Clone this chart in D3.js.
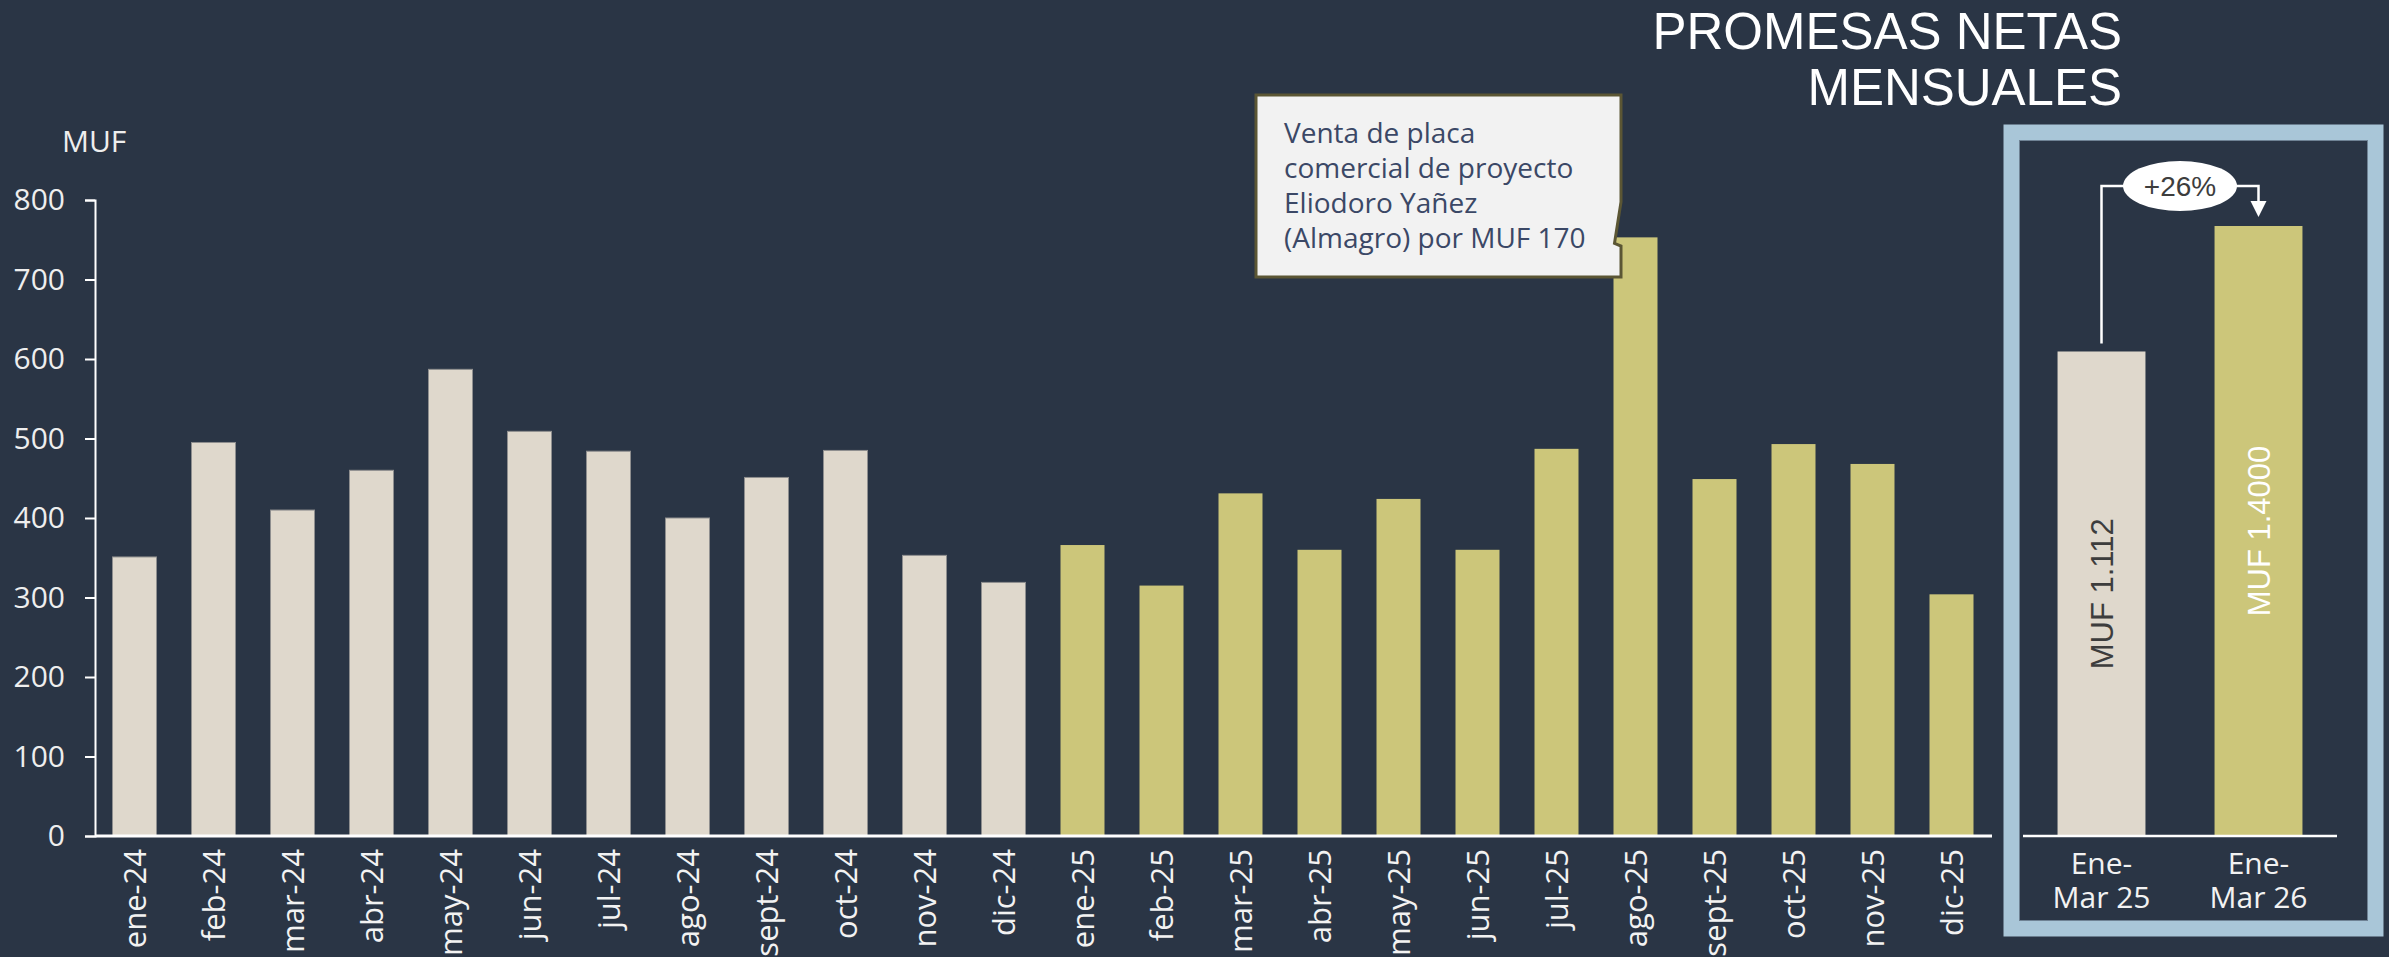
<!DOCTYPE html>
<html>
<head>
<meta charset="utf-8">
<script src="https://cdn.jsdelivr.net/npm/d3@7"></script>
<style>
  html, body { margin: 0; padding: 0; background: #2a3545; }
  svg { display: block; }
</style>
</head>
<body>
<svg id="chart" width="2389" height="957"></svg>
<script>
// Monthly net promises (MUF)
const months = ["ene-24","feb-24","mar-24","abr-24","may-24","jun-24","jul-24","ago-24","sept-24","oct-24","nov-24","dic-24",
                "ene-25","feb-25","mar-25","abr-25","may-25","jun-25","jul-25","ago-25","sept-25","oct-25","nov-25","dic-25"];
const promesas = [351,495,410,460,587,509,484,400,451,485,353,319,
                  366,315,431,360,424,360,487,753,449,493,468,304];
const yTicks = [0,100,200,300,400,500,600,700,800];

// Year-to-date comparison
const resumenLabels = ["Ene-Mar 25","Ene-Mar 26"];
const resumenValues = [1112, 1400];
const resumenText = ["MUF 1.112","MUF 1.4000"];
const variacion = "+26%";

const titleLines = ["PROMESAS NETAS","MENSUALES"];
const notaLines = ["Venta de placa","comercial de proyecto","Eliodoro Yañez","(Almagro) por MUF 170"];

const C = {
  bg: "#2a3545",
  bar24: "#dfd8cc",
  bar25: "#ccc67a",
  frame: "#a9c6d8",
  text: "#ffffff",
  dark: "#3d3d3d",
  note: "#3b4866"
};

const svg = d3.select("#chart");
svg.append("rect").attr("width", 2389).attr("height", 957).attr("fill", C.bg);

// ---------- monthly chart ----------
const x = d3.scaleBand().domain(months).range([95, 1991]).paddingInner(0.443).paddingOuter(0.2215);
const y = d3.scaleLinear().domain([0, 800]).range([836, 200]);

const colorOf = m => m.endsWith("-24") ? C.bar24 : C.bar25;

svg.append("g").selectAll("rect")
  .data(months)
  .join("rect")
  .attr("x", d => x(d))
  .attr("width", x.bandwidth())
  .attr("y", (d, i) => y(promesas[i]))
  .attr("height", (d, i) => y(0) - y(promesas[i]))
  .attr("fill", d => colorOf(d))
  .attr("stroke", d => d.endsWith("-24") ? "#8f8f8f" : "none")
  .attr("stroke-width", 1);

// y axis
const yAxis = svg.append("g")
  .attr("transform", "translate(95,0)")
  .call(d3.axisLeft(y).tickValues(yTicks).tickSize(10).tickPadding(20).tickFormat(d3.format("d")));
yAxis.select(".domain").attr("stroke", "#ffffff").attr("stroke-width", 2);
yAxis.selectAll(".tick line").attr("stroke", "#ffffff").attr("stroke-width", 2);
yAxis.selectAll(".tick text")
  .attr("fill", "#eeeeee")
  .attr("font-family", "'Open Sans', 'Liberation Sans', sans-serif")
  .attr("font-size", 30);

svg.append("text")
  .attr("x", 62).attr("y", 152)
  .attr("fill", "#eeeeee")
  .attr("font-family", "'Open Sans', 'Liberation Sans', sans-serif")
  .attr("font-size", 30)
  .text("MUF");

// x baseline
svg.append("line")
  .attr("x1", 95).attr("x2", 1992)
  .attr("y1", y(0)).attr("y2", y(0))
  .attr("stroke", "#ffffff").attr("stroke-width", 3);

// month labels
svg.append("g").selectAll("text")
  .data(months)
  .join("text")
  .attr("transform", d => `translate(${x(d) + x.bandwidth() / 2},849) rotate(-90)`)
  .attr("text-anchor", "end")
  .attr("dy", "0.36em")
  .attr("fill", "#f2f2f2")
  .attr("font-family", "'Open Sans', 'Liberation Sans', sans-serif")
  .attr("font-size", 31)
  .text(d => d);

// ---------- title ----------
svg.append("g").selectAll("text")
  .data(titleLines)
  .join("text")
  .attr("x", 2122)
  .attr("y", (d, i) => 49 + i * 56)
  .attr("text-anchor", "end")
  .attr("fill", "#ffffff")
  .attr("font-family", "'Liberation Sans', Arial, sans-serif")
  .attr("font-size", 51)
  .text(d => d);

// ---------- callout ----------
const ago = months.indexOf("ago-25");
const boxL = 1256, boxT = 95, boxR = 1621, boxB = 277;
const tipX = x(months[ago]) + 1, tipY = y(promesas[ago]) + 6;
svg.append("path")
  .attr("d", `M${boxL},${boxT} L${boxR},${boxT} L${boxR},202 L${tipX},${tipY} L${boxR},246 L${boxR},${boxB} L${boxL},${boxB} Z`)
  .attr("fill", "#f2f2f2")
  .attr("stroke", "#5b5634")
  .attr("stroke-width", 3)
  .attr("stroke-linejoin", "miter");

svg.append("g").selectAll("text")
  .data(notaLines)
  .join("text")
  .attr("x", 1284)
  .attr("y", (d, i) => 143 + i * 35)
  .attr("fill", C.note)
  .attr("font-family", "'Open Sans', 'Liberation Sans', sans-serif")
  .attr("font-size", 28)
  .text(d => d);

// ---------- comparison panel ----------
svg.append("rect")
  .attr("x", 2011.5).attr("y", 132.5)
  .attr("width", 364).attr("height", 796)
  .attr("fill", "none")
  .attr("stroke", C.frame)
  .attr("stroke-width", 16);
svg.append("rect")
  .attr("x", 2019.5).attr("y", 140.5)
  .attr("width", 348).attr("height", 780)
  .attr("fill", "none")
  .attr("stroke", "#6f8294")
  .attr("stroke-width", 1);

const x2 = d3.scaleBand().domain(resumenLabels).range([2023, 2337]).paddingInner(0.44).paddingOuter(0.22);
const y2 = d3.scaleLinear().domain([0, 1400]).range([836, 226]);

svg.append("g").selectAll("rect")
  .data(resumenLabels)
  .join("rect")
  .attr("x", d => x2(d))
  .attr("width", x2.bandwidth())
  .attr("y", (d, i) => y2(resumenValues[i]))
  .attr("height", (d, i) => y2(0) - y2(resumenValues[i]))
  .attr("fill", (d, i) => i === 0 ? C.bar24 : C.bar25);

svg.append("line")
  .attr("x1", 2023).attr("x2", 2337)
  .attr("y1", y2(0)).attr("y2", y2(0))
  .attr("stroke", "#ffffff").attr("stroke-width", 2.5);

// values written inside the bars
svg.append("g").selectAll("text")
  .data(resumenLabels)
  .join("text")
  .attr("transform", (d, i) => {
    const cx = x2(d) + x2.bandwidth() / 2;
    const cy = (y2(resumenValues[i]) + y2(0)) / 2;
    return `translate(${cx},${cy}) rotate(-90)`;
  })
  .attr("text-anchor", "middle")
  .attr("dy", "0.36em")
  .attr("fill", (d, i) => i === 0 ? C.dark : "#ffffff")
  .attr("font-family", "'Liberation Sans', Arial, sans-serif")
  .attr("font-size", 31)
  .text((d, i) => resumenText[i]);

// category labels (two lines)
resumenLabels.forEach(lbl => {
  const cut = lbl.indexOf("-") + 1;
  const t = svg.append("text")
    .attr("x", x2(lbl) + x2.bandwidth() / 2)
    .attr("text-anchor", "middle")
    .attr("fill", "#f2f2f2")
    .attr("font-family", "'Open Sans', 'Liberation Sans', sans-serif")
    .attr("font-size", 30);
  t.append("tspan").attr("x", x2(lbl) + x2.bandwidth() / 2).attr("y", 874).text(lbl.slice(0, cut));
  t.append("tspan").attr("x", x2(lbl) + x2.bandwidth() / 2).attr("y", 908).text(lbl.slice(cut).trim());
});

// growth connector
const c1 = x2(resumenLabels[0]) + x2.bandwidth() / 2;
const c2 = x2(resumenLabels[1]) + x2.bandwidth() / 2;
const midX = (c1 + c2) / 2, capY = 186;
const top1 = y2(resumenValues[0]) - 8;
const tip2 = y2(resumenValues[1]) - 9;
svg.append("path")
  .attr("d", `M${c1},${top1} L${c1},${capY} L${c2},${capY} L${c2},${tip2 - 14}`)
  .attr("fill", "none")
  .attr("stroke", "#ffffff")
  .attr("stroke-width", 2.5);
svg.append("path")
  .attr("d", `M${c2 - 8},${tip2 - 16} L${c2 + 8},${tip2 - 16} L${c2},${tip2} Z`)
  .attr("fill", "#ffffff");
svg.append("ellipse")
  .attr("cx", midX).attr("cy", capY)
  .attr("rx", 57).attr("ry", 25)
  .attr("fill", "#ffffff");
svg.append("text")
  .attr("x", midX).attr("y", capY + 10)
  .attr("text-anchor", "middle")
  .attr("fill", C.dark)
  .attr("font-family", "'Liberation Sans', Arial, sans-serif")
  .attr("font-size", 28)
  .text(variacion);
</script>
</body>
</html>
